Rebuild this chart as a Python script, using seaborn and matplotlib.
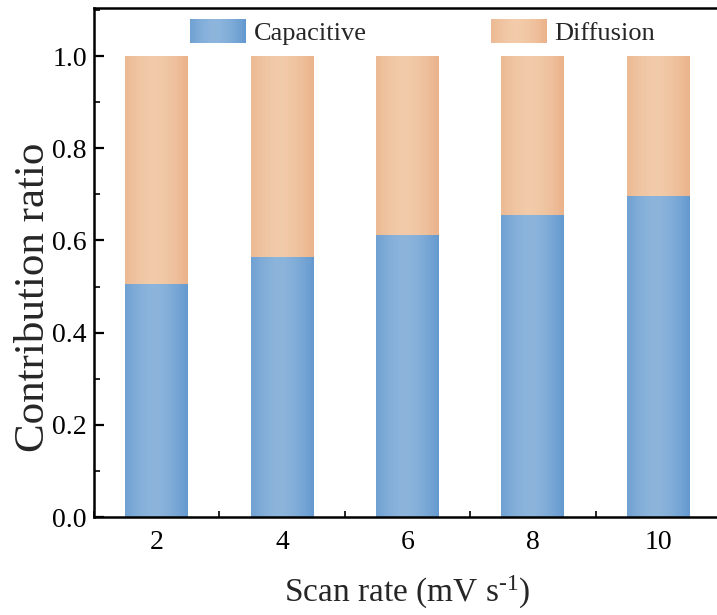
import numpy as np
import pandas as pd
import matplotlib
matplotlib.use("Agg")
import matplotlib.pyplot as plt
import seaborn as sns
from matplotlib.patches import Rectangle
from matplotlib.legend_handler import HandlerBase
from matplotlib.colors import to_rgb
from matplotlib.ticker import MultipleLocator

# ---- data ----
scan_rates = [2, 4, 6, 8, 10]
capacitive = [0.505, 0.565, 0.612, 0.656, 0.697]
diffusion = [0.495, 0.435, 0.388, 0.344, 0.303]
series_names = ["Capacitive", "Diffusion"]
y_ticks = [0.0, 0.2, 0.4, 0.6, 0.8, 1.0]

blue_edge, blue_mid = "#6499cf", "#8db5dc"
orange_edge, orange_mid = "#eab38b", "#f2cbaa"

sns.set_theme(style="ticks")
plt.rcParams["font.family"] = ["Liberation Serif", "DejaVu Serif"]
plt.rcParams["mathtext.fontset"] = "custom"
plt.rcParams["mathtext.rm"] = "Liberation Serif"
plt.rcParams["mathtext.it"] = "Liberation Serif:italic"

df = pd.DataFrame({"rate": scan_rates, "cap": capacitive, "dif": diffusion})
df["total"] = df["cap"] + df["dif"]

fig = plt.figure(figsize=(7.17, 6.15), dpi=100)
ax = fig.add_axes([0.131, 0.1593, 0.8745, 0.8276])

sns.barplot(data=df, x="rate", y="total", native_scale=True, width=0.5,
            color=orange_edge, saturation=1, ax=ax, linewidth=0, errorbar=None)
n_first = len(ax.patches)
sns.barplot(data=df, x="rate", y="cap", native_scale=True, width=0.5,
            color=blue_edge, saturation=1, ax=ax, linewidth=0, errorbar=None)


def gradient_row(edge, mid, n=256):
    t = np.linspace(0, 1, n)
    w = 1 - np.clip(np.abs(t - 0.45) / 0.55, 0, 1) ** 1.6
    e = np.array(to_rgb(edge))
    m = np.array(to_rgb(mid))
    return e[None, :] * (1 - w[:, None]) + m[None, :] * w[:, None]


grad_orange = gradient_row(orange_edge, orange_mid)[None, :, :]
grad_blue = gradient_row(blue_edge, blue_mid)[None, :, :]

for i, p in enumerate(ax.patches):
    x0, y0 = p.get_x(), p.get_y()
    w, h = p.get_width(), p.get_height()
    img = grad_orange if i < n_first else grad_blue
    im = ax.imshow(img, extent=[x0, x0 + w, y0, y0 + h], aspect="auto",
                   interpolation="bilinear", zorder=p.get_zorder() + 0.1)
    im.set_clip_path(p)

ax.set_aspect("auto")
ax.set_xlim(1, 11)
ax.set_ylim(0, 1.104)
ax.set_xticks(scan_rates)
ax.set_xticklabels([str(s) for s in scan_rates])
ax.xaxis.set_minor_locator(MultipleLocator(1))
ax.set_yticks(y_ticks)
ax.set_yticklabels([f"{v:.1f}" for v in y_ticks])
ax.yaxis.set_minor_locator(MultipleLocator(0.1))

ax.tick_params(axis="both", which="major", direction="in", length=7, width=1.6,
               labelsize=20, colors="black")
ax.tick_params(axis="x", which="major", pad=9)
ax.tick_params(axis="y", which="major", pad=5)
ax.tick_params(axis="both", which="minor", direction="in", length=4, width=1.4)
ax.tick_params(top=False, right=False, which="both")
for s in ax.spines.values():
    s.set_linewidth(1.8)
    s.set_color("black")

ax.set_xlabel(r"Scan rate (mV s$^{\text{-1}}$)", fontsize=24, labelpad=14)
ax.set_ylabel("Contribution ratio", fontsize=31)
ax.yaxis.set_label_coords(-0.066, 0.432)


class GradHandler(HandlerBase):
    def __init__(self, edge, mid):
        super().__init__()
        self.cols = gradient_row(edge, mid, 40)

    def create_artists(self, legend, orig_handle, xdescent, ydescent,
                       width, height, fontsize, trans):
        arts = []
        n = len(self.cols)
        for k, c in enumerate(self.cols):
            r = Rectangle((-xdescent + width * k / n, -ydescent),
                          width / n * 1.05, height, facecolor=c,
                          edgecolor="none", transform=trans)
            arts.append(r)
        return arts


h1 = Rectangle((0, 0), 1, 1, color=blue_edge)
h2 = Rectangle((0, 0), 1, 1, color=orange_edge)
ax.legend([h1, h2], series_names, ncol=2, frameon=False, fontsize=19,
          loc="center left", bbox_to_anchor=(0.153, 0.953),
          borderpad=0, borderaxespad=0,
          handler_map={h1: GradHandler(blue_edge, blue_mid),
                       h2: GradHandler(orange_edge, orange_mid)},
          handlelength=2.12, handleheight=1.06, handletextpad=0.3,
          columnspacing=4.7)

fig.savefig("out.png", dpi=100)
